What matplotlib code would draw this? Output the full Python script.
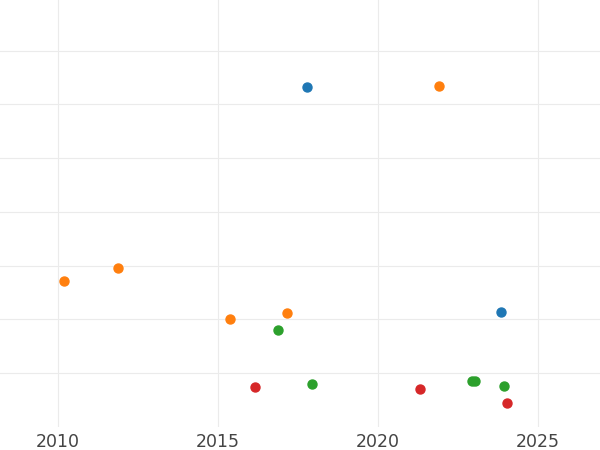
import matplotlib
matplotlib.use("Agg")
import matplotlib.pyplot as plt

# data (y in arbitrary units, 10 per gridline)
blue_x = [2017.77, 2023.85]
blue_y = [63.3, 21.4]
orange_x = [2021.90, 2010.19, 2011.88, 2015.38, 2017.17]
orange_y = [63.5, 27.2, 29.5, 20.1, 21.2]
green_x = [2016.87, 2017.94, 2022.94, 2023.04, 2023.95]
green_y = [18.0, 8.0, 8.6, 8.6, 7.6]
red_x = [2016.17, 2021.31, 2024.04]
red_y = [7.4, 7.1, 4.4]

year_ticks = [2010, 2015, 2020, 2025]

fig = plt.figure(figsize=(6, 4.5), dpi=100)
ax = fig.add_axes([0, 23 / 450, 1, 427 / 450])

ax.scatter(blue_x, blue_y, s=42, color="#1f77b4", zorder=3)
ax.scatter(orange_x, orange_y, s=42, color="#ff7f0e", zorder=3)
ax.scatter(green_x, green_y, s=42, color="#2ca02c", zorder=3)
ax.scatter(red_x, red_y, s=42, color="#d62728", zorder=3)

ax.set_xlim(2008.19, 2026.94)
ax.set_ylim(0, 79.4)
ax.set_xticks(year_ticks)
ax.set_yticks([10, 20, 30, 40, 50, 60, 70])
ax.set_yticklabels([])
ax.grid(True, color="#ebebeb", linewidth=0.8)
ax.set_axisbelow(True)
for s in ax.spines.values():
    s.set_visible(False)
ax.tick_params(axis="both", length=0)
ax.tick_params(axis="x", labelsize=12.5, labelcolor="#444444", pad=4)

fig.savefig("out.png", dpi=100)
